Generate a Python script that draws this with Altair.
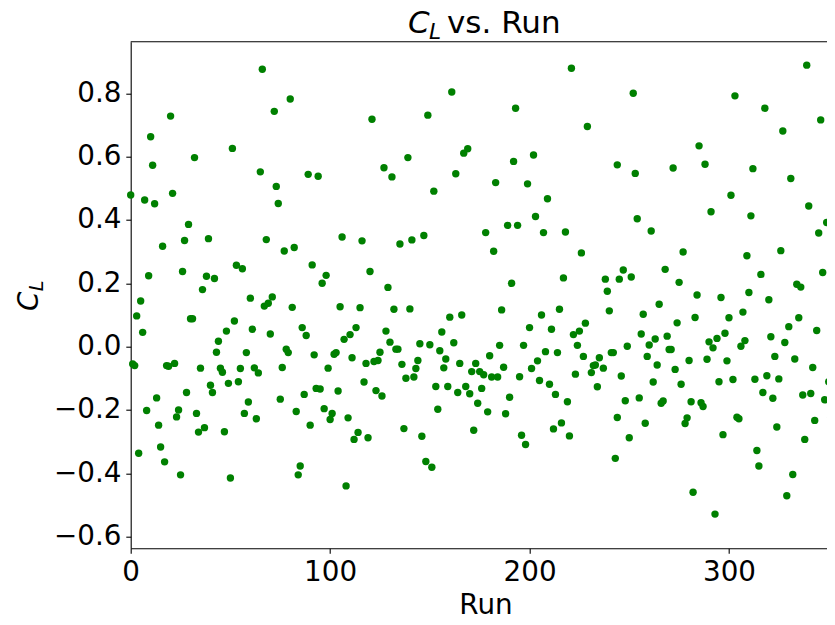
import altair as alt
import pandas as pd

runs = [0,1,2,3,4,5,6,7,8,9,10,11,12,13,14,15,16,17,18,19,20,21,22,23,24,25,26,27,28,29,30,31,32,33,34,35,
        36,37,38,39,40,41,42,43,44,45,46,47,48,49,50,51,52,53,54,55,56,57,58,59,60,61,62,63,64,65,66,67,68,69,70,
        71,72,73,74,75,76,77,78,79,80,81,82,83,84,85,86,87,88,89,90,91,92,93,94,95,96,97,98,99,100,101,102,103,104,105,106,
        107,108,109,110,111,112,113,114,115,116,117,118,119,120,121,122,123,124,125,126,127,128,129,130,131,132,133,134,135,136,137,138,139,140,141,
        142,143,144,145,146,147,148,149,150,151,152,153,154,155,156,157,158,159,160,161,162,163,164,165,166,167,168,169,170,171,172,173,174,175,176,
        177,178,179,180,181,182,183,184,185,186,187,188,189,190,191,192,193,194,195,196,197,198,199,200,201,202,203,204,205,206,207,208,209,210,211,212,
        213,214,215,216,217,218,219,220,221,222,223,224,225,226,227,228,229,231,232,233,234,235,237,238,239,240,241,242,243,244,244,245,246,
        247,248,249,250,251,252,253,254,255,256,257,258,259,260,261,262,263,264,265,266,267,268,269,270,271,272,273,274,275,276,277,278,279,280,281,282,
        283,284,285,286,287,288,289,290,291,292,293,294,295,296,297,298,299,300,301,302,303,304,305,306,307,308,309,310,311,312,313,314,315,316,317,
        318,319,320,321,322,323,324,325,326,327,328,329,330,331,332,333,334,335,336,337,338,339,340,341,342,343,344,345,346,347,348,349,350,351,352,353]

cl = [0.479,-0.055,-0.06,0.097,-0.337,0.144,0.045,0.463,-0.202,0.224,0.663,0.573,0.451,-0.162,-0.248,-0.317,0.317,-0.364,-0.06,-0.062,0.728,0.484,-0.053,-0.222,-0.2,-0.405,0.237,0.335,-0.145,0.386,0.088,0.088,0.597,-0.211,-0.27,-0.068,
      0.18,-0.256,0.222,0.341,-0.122,-0.145,0.215,-0.018,0.017,-0.068,-0.081,-0.269,0.049,-0.116,-0.415,0.626,0.081,0.257,-0.111,-0.069,0.246,-0.211,-0.019,-0.175,0.153,0.055,-0.067,-0.228,-0.083,0.552,0.876,0.128,0.338,0.137,0.04,
      0.157,0.743,0.506,0.452,-0.166,-0.066,0.302,-0.008,-0.019,0.782,0.124,0.313,-0.205,-0.405,-0.377,0.06,-0.151,0.035,0.544,-0.248,0.258,-0.026,-0.132,0.538,-0.134,0.2,-0.196,0.225,-0.068,-0.23,-0.211,-0.024,-0.019,-0.14,0.126,0.346,
      0.023,-0.44,-0.225,0.038,-0.035,-0.293,0.06,-0.271,0.123,0.334,-0.112,-0.053,-0.288,0.237,0.718,-0.047,-0.139,-0.044,-0.018,-0.156,0.565,0.049,0.187,0.014,0.536,0.118,-0.008,-0.008,0.324,-0.056,-0.259,-0.1,0.597,0.119,0.337,
      -0.096,-0.069,-0.044,0.009,-0.283,0.351,-0.363,0.731,0.006,-0.381,0.491,-0.126,-0.198,-0.013,0.046,-0.067,-0.039,-0.126,0.093,0.804,0.012,0.546,-0.145,-0.053,0.1,0.611,-0.126,0.625,-0.149,-0.079,-0.264,-0.053,-0.179,-0.079,-0.132,
      -0.089,0.36,-0.206,-0.029,-0.096,0.301,0.518,-0.096,0.004,0.116,-0.065,-0.212,0.383,-0.16,0.2,0.585,0.753,0.383,-0.095,-0.28,0.004,-0.309,0.514,0.06,-0.069,0.605,0.411,-0.045,-0.107,0.1,0.36,-0.016,0.467,-0.119,0.055,-0.26,
      -0.151,-0.019,0.118,-0.241,0.217,0.362,-0.174,-0.282,0.879,0.038,-0.087,0.004,0.049,0.296,-0.031,0.074,0.695,-0.082,-0.06,-0.058,-0.127,-0.035,-0.068,0.213,0.175,0.113,-0.019,-0.019,-0.353,0.574,-0.224,0.213,-0.093,
      0.242,-0.171,0.001,-0.288,0.22,0.8,0.547,0.404,-0.162,0.04,0.102,-0.242,-0.031,0.005,0.365,-0.112,0.024,-0.058,0.134,-0.179,-0.172,0.244,0.033,-0.009,-0.009,0.564,-0.072,0.075,0.203,-0.119,0.299,-0.243,-0.225,-0.044,-0.174,-0.46,
      0.092,0.163,0.634,-0.177,-0.189,0.576,-0.04,0.015,0.426,-0.004,-0.529,0.026,-0.111,0.155,-0.278,0.042,-0.045,0.091,0.478,-0.104,0.792,-0.223,-0.228,0.001,0.109,0.019,0.287,0.171,0.413,0.562,-0.103,-0.328,-0.377,0.228,-0.145,
      0.753,-0.092,0.148,0.031,-0.163,-0.031,-0.254,-0.102,0.303,0.681,0.013,-0.471,0.063,0.531,-0.404,-0.039,0.197,0.091,0.188,-0.153,-0.293,0.889,0.444,-0.148,-0.066,-0.233,0.051,0.359,0.716,0.234,-0.168,0.392,-0.111,-0.222,-0.095,-0.222]

x_ticks = [0, 100, 200, 300]
y_ticks = [-0.6, -0.4, -0.2, 0.0, 0.2, 0.4, 0.6, 0.8]
x_domain = [0, 349]
y_domain = [-0.637, 0.963]

title_main = ["C"]
title_sub = ["L"]
title_rest = ["vs. Run"]
x_title = ["Run"]
y_main = ["C"]
y_sub = ["L"]

FONT = "DejaVu Sans"
FS = 27.8
TFS = 31
W = 696
H = 506.6

df = pd.DataFrame({"Run": runs, "CL": cl})

axis_common = dict(grid=False, domainColor="black", domainWidth=1.1, tickColor="black",
                   tickWidth=1.1, tickSize=4.9, labelPadding=4.9, labelFont=FONT,
                   labelFontSize=FS, labelColor="black", title=None, labelOverlap=False)

points = alt.Chart(df).mark_circle(size=54.6, color="#008000", opacity=1).encode(
    x=alt.X("Run:Q", scale=alt.Scale(domain=x_domain, nice=False, zero=False),
            axis=alt.Axis(values=x_ticks, format="d", labelFlush=False, **axis_common)),
    y=alt.Y("CL:Q", scale=alt.Scale(domain=y_domain, nice=False, zero=False),
            axis=alt.Axis(values=y_ticks, format=".1f", **axis_common)),
)

top_spine = alt.Chart(pd.DataFrame({"a": [0]})).mark_rule(color="black", strokeWidth=1.1).encode(
    x=alt.value(0), x2=alt.value(W + 20), y=alt.value(0))


def txt(lst, x, y, size=FS, style="normal", angle=0, align="left"):
    return alt.Chart(pd.DataFrame({"t": lst})).mark_text(
        font=FONT, fontSize=size, fontStyle=style, color="black", align=align,
        baseline="alphabetic", angle=angle,
    ).encode(text="t:N", x=alt.value(x), y=alt.value(y))


t1 = txt(title_main, 277.3, -8.7, size=TFS, style="italic")
t2 = txt(title_sub, 298.3, -3.2, size=21.7, style="italic")
t3 = txt(title_rest, 316.3, -8.7, size=TFS)
xt = txt(x_title, 355.3, 572.0, align="center")
y1 = txt(y_main, -92.2, 269.3, style="italic", angle=270)
y2 = txt(y_sub, -87.5, 249.5, size=19.5, style="italic", angle=270)

chart = alt.layer(points, top_spine, t1, t2, t3, xt, y1, y2).properties(
    width=W, height=H,
    autosize=alt.AutoSizeParams(type="none"),
    padding={"left": 122.7, "top": 33.7, "right": 0, "bottom": 68},
).configure_view(strokeWidth=0)

chart.save("out.html", embed_options={"renderer": "svg", "actions": False})
